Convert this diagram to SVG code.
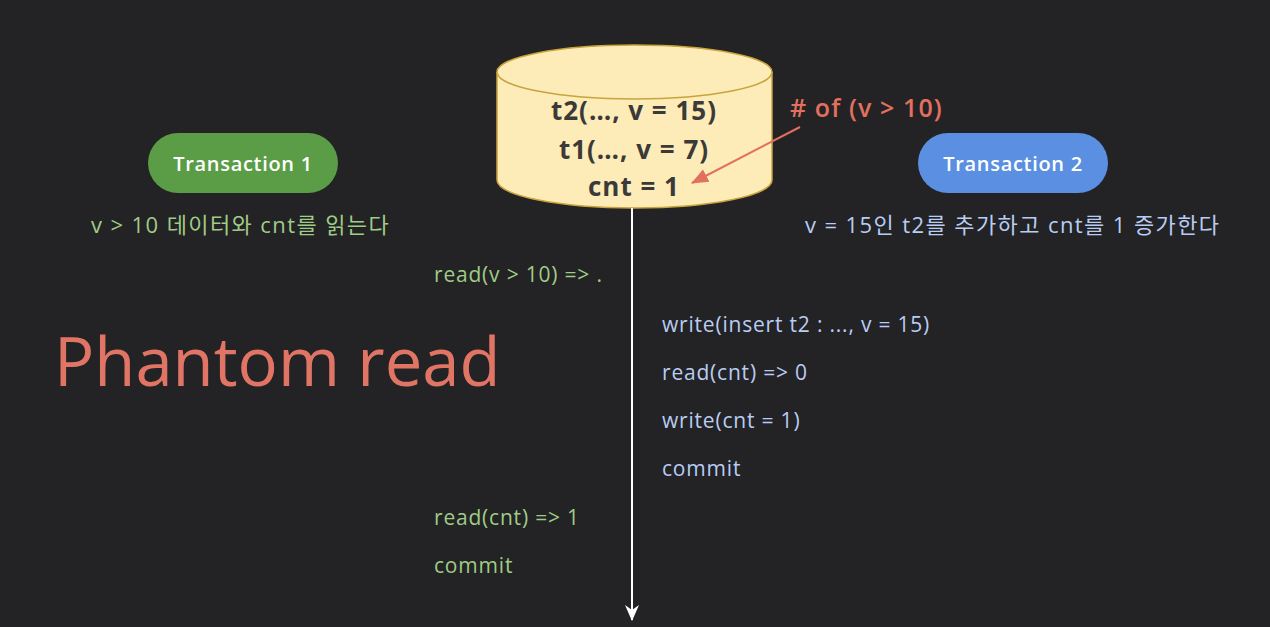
<svg xmlns="http://www.w3.org/2000/svg" width="1270" height="627" viewBox="0 0 1270 627">
<style>
.db{fill:#fdebb8;stroke:#c9a43c;stroke-width:1.5}
.dbt{font-family:"Open Sans",sans-serif;font-weight:bold;font-size:26px;letter-spacing:1px;fill:#3b3a38;text-anchor:middle}
.pill{stroke:none}
.pt{font-family:"Open Sans",sans-serif;font-weight:600;font-size:20px;letter-spacing:0.7px;fill:#ffffff;text-anchor:middle}
.g{font-family:"Open Sans","Noto Sans CJK KR",sans-serif;font-size:21px;letter-spacing:0.8px;fill:#9fcc86}
.b{font-family:"Open Sans","Noto Sans CJK KR",sans-serif;font-size:21px;letter-spacing:0.8px;fill:#b8cdf3}
.ko{font-size:22px;letter-spacing:1.4px}
.red{font-family:"Open Sans",sans-serif;font-weight:600;font-size:25px;letter-spacing:1.1px;fill:#e2705f}
.title{font-family:"Open Sans",sans-serif;font-size:67px;fill:#e07565}
</style>
<defs>
<marker id="wa" markerWidth="16" markerHeight="16" refX="15" refY="8" orient="auto" markerUnits="userSpaceOnUse"><path d="M0,1 L16,8 L0,15 L5,8 Z" fill="#ffffff"/></marker>
<marker id="ra" markerWidth="18" markerHeight="16" refX="16" refY="8" orient="auto" markerUnits="userSpaceOnUse"><path d="M0,1 L17,8 L0,15 Z" fill="#e2705f"/></marker>
</defs>
<rect width="1270" height="627" fill="#232224"/>
<g id="db">
<path class="db" d="M497,72 L497,180 A137.5,28 0 0 0 772,180 L772,72"/>
<ellipse class="db" cx="634.5" cy="72" rx="137.5" ry="27"/>
<text class="dbt" x="634" y="120">t2(…, v = 15)</text>
<text class="dbt" x="634" y="159">t1(…, v = 7)</text>
<text class="dbt" x="634" y="196">cnt = 1</text>
</g>
<g id="connectors">
<line x1="632" y1="208" x2="632" y2="620" stroke="#ffffff" stroke-width="2" marker-end="url(#wa)"/>
<line x1="800" y1="127" x2="692" y2="183" stroke="#e2705f" stroke-width="2" marker-end="url(#ra)"/>
</g>
<g id="label-count">
<text class="red" x="790" y="117"># of (v &gt; 10)</text>
</g>
<g id="tx1">
<rect class="pill" x="148" y="133" width="190" height="60" rx="30" fill="#5a9d46"/>
<text class="pt" x="243" y="171">Transaction 1</text>
</g>
<g id="tx2">
<rect class="pill" x="918" y="133" width="190" height="60" rx="30" fill="#5b8fe2"/>
<text class="pt" x="1013" y="171">Transaction 2</text>
</g>
<g id="desc1"><text class="g ko" x="91" y="233">v &gt; 10 데이터와 cnt를 읽는다</text></g>
<g id="desc2"><text class="b ko" x="805" y="233">v = 15인 t2를 추가하고 cnt를 1 증가한다</text></g>
<g id="title"><text class="title" x="54" y="386">Phantom read</text></g>
<g id="t1-ops">
<text class="g" x="434" y="282">read(v &gt; 10) =&gt; .</text>
<text class="g" x="434" y="525">read(cnt) =&gt; 1</text>
<text class="g" x="434" y="573">commit</text>
</g>
<g id="t2-ops">
<text class="b" x="662" y="332">write(insert t2 : ..., v = 15)</text>
<text class="b" x="662" y="380">read(cnt) =&gt; 0</text>
<text class="b" x="662" y="428">write(cnt = 1)</text>
<text class="b" x="662" y="476">commit</text>
</g>
</svg>
